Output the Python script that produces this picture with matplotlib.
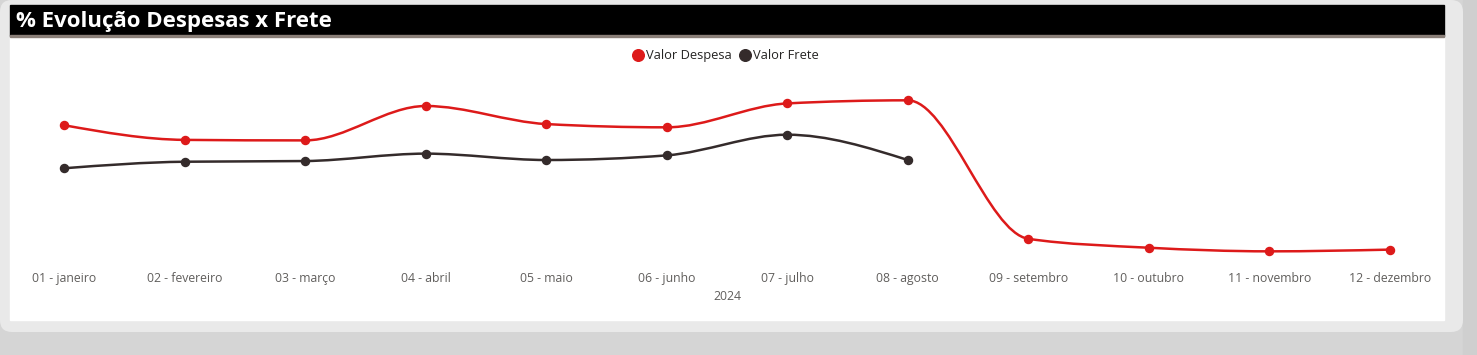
import numpy as np
import matplotlib
matplotlib.use('Agg')
import matplotlib.pyplot as plt
from matplotlib.path import Path
from matplotlib.patches import PathPatch, FancyBboxPatch, Rectangle

plt.rcParams['font.family'] = ['Open Sans', 'DejaVu Sans']

# dados (escala relativa, eixo y oculto)
meses = ['01 - janeiro', '02 - fevereiro', '03 - março', '04 - abril', '05 - maio', '06 - junho',
         '07 - julho', '08 - agosto', '09 - setembro', '10 - outubro', '11 - novembro', '12 - dezembro']
valor_despesa = [79.5, 71.0, 70.7, 90.7, 80.2, 78.3, 92.2, 94.0, 13.5, 8.3, 6.2, 7.2]
valor_frete = [54.5, 58.3, 58.7, 63.0, 59.3, 62.0, 74.0, 59.3]

RED = '#dd1a1a'
DARK = '#342b2b'


def monotone_path(x, y):
    # curva monotone X (mesma ideia do d3) como Bezier cubica
    x = np.asarray(x, float)
    y = np.asarray(y, float)
    n = len(x)
    h = np.diff(x)
    s = np.diff(y) / h
    t = np.zeros(n)
    for i in range(1, n - 1):
        p = (s[i - 1] * h[i] + s[i] * h[i - 1]) / (h[i - 1] + h[i])
        t[i] = (np.sign(s[i - 1]) + np.sign(s[i])) * min(abs(s[i - 1]), abs(s[i]), 0.5 * abs(p))
    t[0] = (3 * s[0] - t[1]) / 2
    t[-1] = (3 * s[-1] - t[-2]) / 2
    verts = [(x[0], y[0])]
    codes = [Path.MOVETO]
    for i in range(n - 1):
        dx = (x[i + 1] - x[i]) / 3
        verts += [(x[i] + dx, y[i] + dx * t[i]), (x[i + 1] - dx, y[i + 1] - dx * t[i + 1]), (x[i + 1], y[i + 1])]
        codes += [Path.CURVE4] * 3
    return Path(verts, codes)


fig = plt.figure(figsize=(14.77, 3.55), dpi=100)
fig.patch.set_facecolor('#d3d3d3')

# fundo / cartão
bg = fig.add_axes([0, 0, 1, 1])
bg.set_xlim(0, 1477)
bg.set_ylim(355, 0)
bg.axis('off')
bg.add_patch(Rectangle((0, 0), 1477, 355, color='#d5d5d5', zorder=0))
bg.add_patch(Rectangle((1463, 0), 14, 355, color='#cfcfcf', zorder=0))
bg.add_patch(FancyBboxPatch((0, 0), 1463, 332, boxstyle='round,pad=0,rounding_size=12',
                            facecolor='#e9e9e9', edgecolor='none', zorder=1))
bg.add_patch(Rectangle((10, 5), 1434, 315, color='white', zorder=2))
bg.add_patch(Rectangle((10, 5), 1434, 31, color='black', zorder=3))
bg.add_patch(Rectangle((10, 35), 1434, 1.5, color='#8a7f78', zorder=4))
bg.text(16, 21, '% Evolução Despesas x Frete', color='white', fontsize=16, fontweight='bold',
        va='center', ha='left', zorder=5)

# legenda
bg.scatter([638], [55], s=70, color=RED, zorder=5)
bg.text(646, 55.5, 'Valor Despesa', fontsize=9.3, color='#252423', va='center', ha='left', zorder=5)
bg.scatter([745], [55], s=70, color=DARK, zorder=5)
bg.text(753, 55.5, 'Valor Frete', fontsize=9.3, color='#252423', va='center', ha='left', zorder=5)

# area do grafico
ax = fig.add_axes([4 / 1477, 1 - 262 / 355, 1446 / 1477, 172 / 355])
ax.patch.set_alpha(0)
ax.set_xlim(-0.5, 11.5)
ax.set_ylim(0, 100)
for sp in ax.spines.values():
    sp.set_visible(False)
ax.set_yticks([])

x_d = np.arange(len(valor_despesa))
x_f = np.arange(len(valor_frete))
ax.add_patch(PathPatch(monotone_path(x_d, valor_despesa), facecolor='none', edgecolor=RED, lw=1.8,
                       zorder=3, capstyle='round'))
ax.add_patch(PathPatch(monotone_path(x_f, valor_frete), facecolor='none', edgecolor=DARK, lw=1.8,
                       zorder=3, capstyle='round'))
ax.plot(x_d, valor_despesa, 'o', color=RED, ms=5.8, zorder=4)
ax.plot(x_f, valor_frete, 'o', color=DARK, ms=5.8, zorder=4)

ax.set_xticks(np.arange(len(meses)))
ax.set_xticklabels(meses, fontsize=8.8, color='#605e5c')
ax.tick_params(axis='x', length=0, pad=7)
ax.set_xlabel('2024', fontsize=8.8, color='#605e5c', labelpad=4)

fig.savefig('out.png', dpi=100)
